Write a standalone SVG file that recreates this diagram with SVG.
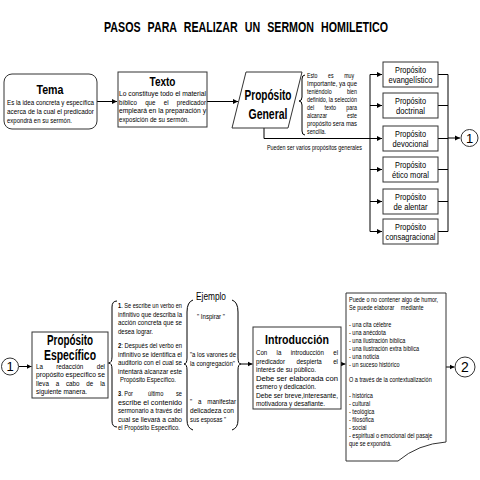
<svg xmlns="http://www.w3.org/2000/svg" width="480" height="480" viewBox="0 0 480 480">
<style>
.t{font-family:"Liberation Sans Narrow","Liberation Sans",Arial,sans-serif;fill:#000}
.b{font-weight:bold}
.box{fill:#fff;stroke:#333;stroke-width:1}
.ln{fill:none;stroke:#000;stroke-width:1}
.s75{font-size:7.5px}
.s7{font-size:7px}
.s65{font-size:6.5px}
.s9{font-size:9px}
</style>
<defs>
<marker id="ar" markerWidth="6" markerHeight="6" refX="5" refY="3" orient="auto" markerUnits="userSpaceOnUse"><path d="M0,0.6 L5,3 L0,5.4 Z" fill="#000"/></marker>
</defs>
<rect width="480" height="480" fill="#fff"/>
<text class="t b" x="246" y="32" font-size="15.5" text-anchor="middle" word-spacing="6" textLength="284" lengthAdjust="spacingAndGlyphs">PASOS PARA REALIZAR UN SERMON HOMILETICO</text>

<g id="connectors">
<path class="ln" d="M97,101.5 H117" marker-end="url(#ar)"/>
<path class="ln" d="M207,101.5 H238" marker-end="url(#ar)"/>
<path class="ln" d="M264,128 V138.5 H382" marker-end="url(#ar)"/>
<path class="ln" d="M370,74.5 V231.5"/>
<path class="ln" d="M370,74.5 H382" marker-end="url(#ar)"/>
<path class="ln" d="M370,105.5 H382" marker-end="url(#ar)"/>
<path class="ln" d="M370,169.5 H382" marker-end="url(#ar)"/>
<path class="ln" d="M370,201.5 H382" marker-end="url(#ar)"/>
<path class="ln" d="M370,231.5 H382" marker-end="url(#ar)"/>
<path class="ln" d="M438,74.5 H448 V231.5 H438 M438,105.5 H448 M438,138.5 H448 M438,169.5 H448 M438,201.5 H448"/>
<path class="ln" d="M448,138 H460" marker-end="url(#ar)"/>
<path class="ln" d="M305,75 Q302,75 302,79 L302,97 Q302,101 299,101 Q302,101 302,105 L302,131 Q302,135 305,135"/>
<path class="ln" d="M19,366.5 H31.5" marker-end="url(#ar)"/>
<path class="ln" d="M117,301 Q112,301 112,307 L112,357 Q112,363 108.5,363 Q112,363 112,369 L112,421 Q112,427 117,427"/>
<path class="ln" d="M193,300 Q187,302 187,312 L187,358 Q187,364 184,364 Q187,364 187,370 L187,420 Q187,428 193,430"/>
<path class="ln" d="M232,300 Q238,302 238,312 L238,358 Q238,364 241,364 Q238,364 238,370 L238,420 Q238,428 232,430"/>
<path class="ln" d="M241,364 H252.5" marker-end="url(#ar)"/>
<path class="ln" d="M341,364 H345.5" marker-end="url(#ar)"/>
<path class="ln" d="M446,367 H454.5" marker-end="url(#ar)"/>
</g>

<g id="tema">
<rect class="box" x="4" y="74" width="93" height="55" rx="8"/>
<text class="t b" x="50" y="94" font-size="13" text-anchor="middle" textLength="27" lengthAdjust="spacingAndGlyphs">Tema</text>
<text class="t s75" x="7" y="105" textLength="87" lengthAdjust="spacingAndGlyphs">Es la idea concreta y específica</text>
<text class="t s75" x="7" y="114" textLength="87" lengthAdjust="spacingAndGlyphs">acerca de la cual el predicador</text>
<text class="t s75" x="7" y="123" textLength="65" lengthAdjust="spacingAndGlyphs">expondrá en su sermón.</text>
</g>

<g id="texto">
<rect class="box" x="118" y="72" width="89" height="55"/>
<text class="t b" x="162.5" y="86" font-size="13" text-anchor="middle" textLength="26" lengthAdjust="spacingAndGlyphs">Texto</text>
<text class="t s75" x="119" y="96" textLength="87" lengthAdjust="spacingAndGlyphs">Lo constituye todo el material</text>
<text class="t s75" x="119" y="104.5" word-spacing="7.9" textLength="87" lengthAdjust="spacingAndGlyphs">bíblico que el predicador</text>
<text class="t s75" x="119" y="113" textLength="87" lengthAdjust="spacingAndGlyphs">empleará en la preparación y</text>
<text class="t s75" x="119" y="121.5" textLength="70" lengthAdjust="spacingAndGlyphs">exposición de su sermón.</text>
</g>

<g id="proposito-general">
<polygon class="box" points="246,72 302,72 288,128 232,128"/>
<text class="t b" x="268" y="100" font-size="15" text-anchor="middle" textLength="47" lengthAdjust="spacingAndGlyphs">Propósito</text>
<text class="t b" x="268" y="119" font-size="15" text-anchor="middle" textLength="39" lengthAdjust="spacingAndGlyphs">General</text>
</g>

<g id="nota-general">
<text class="t s65" x="307" y="78" word-spacing="11.4" textLength="47" lengthAdjust="spacingAndGlyphs">Esto es muy</text>
<text class="t s65" x="307" y="86" textLength="50" lengthAdjust="spacingAndGlyphs">Importante, ya que</text>
<text class="t s65" x="307" y="94" word-spacing="16.9" textLength="50" lengthAdjust="spacingAndGlyphs">teniéndolo bien</text>
<text class="t s65" x="307" y="102" textLength="50" lengthAdjust="spacingAndGlyphs">definido, la selección</text>
<text class="t s65" x="307" y="110" word-spacing="10.8" textLength="50" lengthAdjust="spacingAndGlyphs">del texto para</text>
<text class="t s65" x="307" y="118" word-spacing="22.3" textLength="50" lengthAdjust="spacingAndGlyphs">alcanzar este</text>
<text class="t s65" x="307" y="126" textLength="50" lengthAdjust="spacingAndGlyphs">propósito sera mas</text>
<text class="t s65" x="307" y="134" textLength="19" lengthAdjust="spacingAndGlyphs">sencilla.</text>
<text class="t s65" x="267" y="149.5" textLength="95" lengthAdjust="spacingAndGlyphs">Pueden ser varios propósitos generales</text>
</g>

<g id="p-evangelistico">
<rect class="box" x="383" y="62" width="55" height="25"/>
<text class="t s9" x="410.5" y="72.5" text-anchor="middle" textLength="31" lengthAdjust="spacingAndGlyphs">Propósito</text>
<text class="t s9" x="410.5" y="83" text-anchor="middle" textLength="44" lengthAdjust="spacingAndGlyphs">evangelístico</text>
</g>
<g id="p-doctrinal">
<rect class="box" x="383" y="93" width="55" height="25"/>
<text class="t s9" x="410.5" y="103.5" text-anchor="middle" textLength="31" lengthAdjust="spacingAndGlyphs">Propósito</text>
<text class="t s9" x="410.5" y="114" text-anchor="middle" textLength="29" lengthAdjust="spacingAndGlyphs">doctrinal</text>
</g>
<g id="p-devocional">
<rect class="box" x="383" y="126" width="55" height="25"/>
<text class="t s9" x="410.5" y="136.5" text-anchor="middle" textLength="31" lengthAdjust="spacingAndGlyphs">Propósito</text>
<text class="t s9" x="410.5" y="147" text-anchor="middle" textLength="36" lengthAdjust="spacingAndGlyphs">devocional</text>
</g>
<g id="p-etico">
<rect class="box" x="383" y="157" width="55" height="25"/>
<text class="t s9" x="410.5" y="167.5" text-anchor="middle" textLength="31" lengthAdjust="spacingAndGlyphs">Propósito</text>
<text class="t s9" x="410.5" y="178" text-anchor="middle" textLength="37" lengthAdjust="spacingAndGlyphs">ético moral</text>
</g>
<g id="p-alentar">
<rect class="box" x="383" y="189" width="55" height="25"/>
<text class="t s9" x="410.5" y="199.5" text-anchor="middle" textLength="31" lengthAdjust="spacingAndGlyphs">Propósito</text>
<text class="t s9" x="410.5" y="210" text-anchor="middle" textLength="34" lengthAdjust="spacingAndGlyphs">de alentar</text>
</g>
<g id="p-consagracional">
<rect class="box" x="383" y="219" width="55" height="25"/>
<text class="t s9" x="410.5" y="229.5" text-anchor="middle" textLength="31" lengthAdjust="spacingAndGlyphs">Propósito</text>
<text class="t s9" x="410.5" y="240" text-anchor="middle" textLength="50" lengthAdjust="spacingAndGlyphs">consagracional</text>
</g>

<g id="circulo-1a">
<circle class="box" cx="469.5" cy="138" r="8.5" stroke="#000"/>
<text class="t" x="469.5" y="142.5" font-size="13" text-anchor="middle">1</text>
</g>

<g id="circulo-1b">
<circle class="box" cx="10" cy="366.5" r="8.5" stroke="#000"/>
<text class="t" x="10" y="371" font-size="13" text-anchor="middle">1</text>
</g>

<g id="proposito-especifico">
<rect class="box" x="32" y="332" width="76" height="66"/>
<text class="t b" x="70" y="345" font-size="14" text-anchor="middle" textLength="46" lengthAdjust="spacingAndGlyphs">Propósito</text>
<text class="t b" x="70" y="360" font-size="14" text-anchor="middle" textLength="52" lengthAdjust="spacingAndGlyphs">Específico</text>
<text class="t s75" x="36" y="368.5" word-spacing="13.9" textLength="69" lengthAdjust="spacingAndGlyphs">La redacción del</text>
<text class="t s75" x="36" y="377" textLength="69" lengthAdjust="spacingAndGlyphs">propósito específico se</text>
<text class="t s75" x="36" y="385.5" word-spacing="6.1" textLength="69" lengthAdjust="spacingAndGlyphs">lleva a cabo de la</text>
<text class="t s75" x="36" y="394" textLength="51" lengthAdjust="spacingAndGlyphs">siguiente manera.</text>
</g>

<g id="pasos">
<text class="t s7" x="118" y="308" textLength="64" lengthAdjust="spacingAndGlyphs"><tspan class="b">1</tspan>. Se escribe un verbo en</text>
<text class="t s7" x="118" y="316.5" textLength="64" lengthAdjust="spacingAndGlyphs">infinitivo que describa la</text>
<text class="t s7" x="118" y="325" textLength="64" lengthAdjust="spacingAndGlyphs">acción concreta que se</text>
<text class="t s7" x="118" y="333.5" textLength="35" lengthAdjust="spacingAndGlyphs">desea lograr.</text>
<text class="t s7" x="118" y="348" textLength="64" lengthAdjust="spacingAndGlyphs"><tspan class="b">2</tspan>: Después del verbo en</text>
<text class="t s7" x="118" y="356.5" textLength="64" lengthAdjust="spacingAndGlyphs">infinitivo se identifica el</text>
<text class="t s7" x="118" y="365" textLength="64" lengthAdjust="spacingAndGlyphs">auditorio con el cual se</text>
<text class="t s7" x="118" y="373.5" textLength="64" lengthAdjust="spacingAndGlyphs">intentará alcanzar este</text>
<text class="t s7" x="120" y="382" textLength="56" lengthAdjust="spacingAndGlyphs">Propósito Específico.</text>
<text class="t s7" x="118" y="396" textLength="15" lengthAdjust="spacingAndGlyphs"><tspan class="b">3</tspan>. Por</text>
<text class="t s7" x="148" y="396" word-spacing="13.4" textLength="34" lengthAdjust="spacingAndGlyphs">último se</text>
<text class="t s7" x="118" y="404.5" textLength="64" lengthAdjust="spacingAndGlyphs">escribe el contenido</text>
<text class="t s7" x="118" y="413" textLength="64" lengthAdjust="spacingAndGlyphs">sermonario a través del</text>
<text class="t s7" x="118" y="421.5" textLength="64" lengthAdjust="spacingAndGlyphs">cual se llevará a cabo</text>
<text class="t s7" x="118" y="430" textLength="62" lengthAdjust="spacingAndGlyphs">el Propósito Específico.</text>
</g>

<g id="ejemplo">
<text class="t" x="211" y="300" font-size="10" text-anchor="middle" textLength="30" lengthAdjust="spacingAndGlyphs">Ejemplo</text>
<text class="t s75" x="211" y="319" text-anchor="middle" textLength="28" lengthAdjust="spacingAndGlyphs">" Inspirar "</text>
<text class="t s75" x="190" y="357" textLength="46" lengthAdjust="spacingAndGlyphs">"a los varones de</text>
<text class="t s75" x="190" y="366" textLength="45" lengthAdjust="spacingAndGlyphs">la congregación"</text>
<text class="t s75" x="190" y="404" word-spacing="5" textLength="46" lengthAdjust="spacingAndGlyphs">" a manifestar</text>
<text class="t s75" x="190" y="413" textLength="44" lengthAdjust="spacingAndGlyphs">delicadeza con</text>
<text class="t s75" x="190" y="422" textLength="36" lengthAdjust="spacingAndGlyphs">sus esposas "</text>
</g>

<g id="introduccion">
<rect class="box" x="253" y="327" width="88" height="82"/>
<text class="t b" x="297" y="344" font-size="13" text-anchor="middle" textLength="64" lengthAdjust="spacingAndGlyphs">Introducción</text>
<text class="t s75" x="256" y="355" word-spacing="9.3" textLength="82" lengthAdjust="spacingAndGlyphs">Con la introducción el</text>
<text class="t s75" x="256" y="363.5" word-spacing="11.9" textLength="82" lengthAdjust="spacingAndGlyphs">predicador despierta el</text>
<text class="t s75" x="256" y="372" textLength="60" lengthAdjust="spacingAndGlyphs">interés de su público.</text>
<text class="t s75" x="256" y="380.5" textLength="82" lengthAdjust="spacingAndGlyphs">Debe ser elaborada con</text>
<text class="t s75" x="256" y="389" textLength="60" lengthAdjust="spacingAndGlyphs">esmero y dedicación.</text>
<text class="t s75" x="256" y="397.5" textLength="82" lengthAdjust="spacingAndGlyphs">Debe ser breve,interesante,</text>
<text class="t s75" x="256" y="406" textLength="69" lengthAdjust="spacingAndGlyphs">motivadora y desafiante.</text>
</g>

<g id="recursos">
<path class="box" d="M346,293 H446 V442 Q418,444 398,461 H346 Z"/>
<g transform="translate(349,0) scale(0.85,1)">
<text class="t s65" x="0" y="302">Puede o no contener algo de humor,</text>
<text class="t s65" x="0" y="310">Se puede elaborar</text>
<text class="t s65" x="61" y="310">mediante</text>
<text class="t s65" x="0" y="327">- una cita célebre</text>
<text class="t s65" x="0" y="335">- una anécdota</text>
<text class="t s65" x="0" y="343">- una  ilustración bíblica</text>
<text class="t s65" x="0" y="351">- una ilustración extra bíblica</text>
<text class="t s65" x="0" y="359">- una noticia</text>
<text class="t s65" x="0" y="367.5">- un suceso histórico</text>
<text class="t s65" x="0" y="382">O a través de la contextualización</text>
<text class="t s65" x="0" y="398">- histórica</text>
<text class="t s65" x="0" y="406">- cultural</text>
<text class="t s65" x="0" y="414">- teológica</text>
<text class="t s65" x="0" y="422">- filosófica</text>
<text class="t s65" x="0" y="430">- social</text>
<text class="t s65" x="0" y="438">- espiritual o emocional del pasaje</text>
<text class="t s65" x="0" y="446">que se expondrá.</text>
</g>
</g>

<g id="circulo-2">
<circle class="box" cx="465" cy="367" r="10" stroke="#000"/>
<text class="t" x="465" y="372" font-size="14" text-anchor="middle">2</text>
</g>
</svg>
